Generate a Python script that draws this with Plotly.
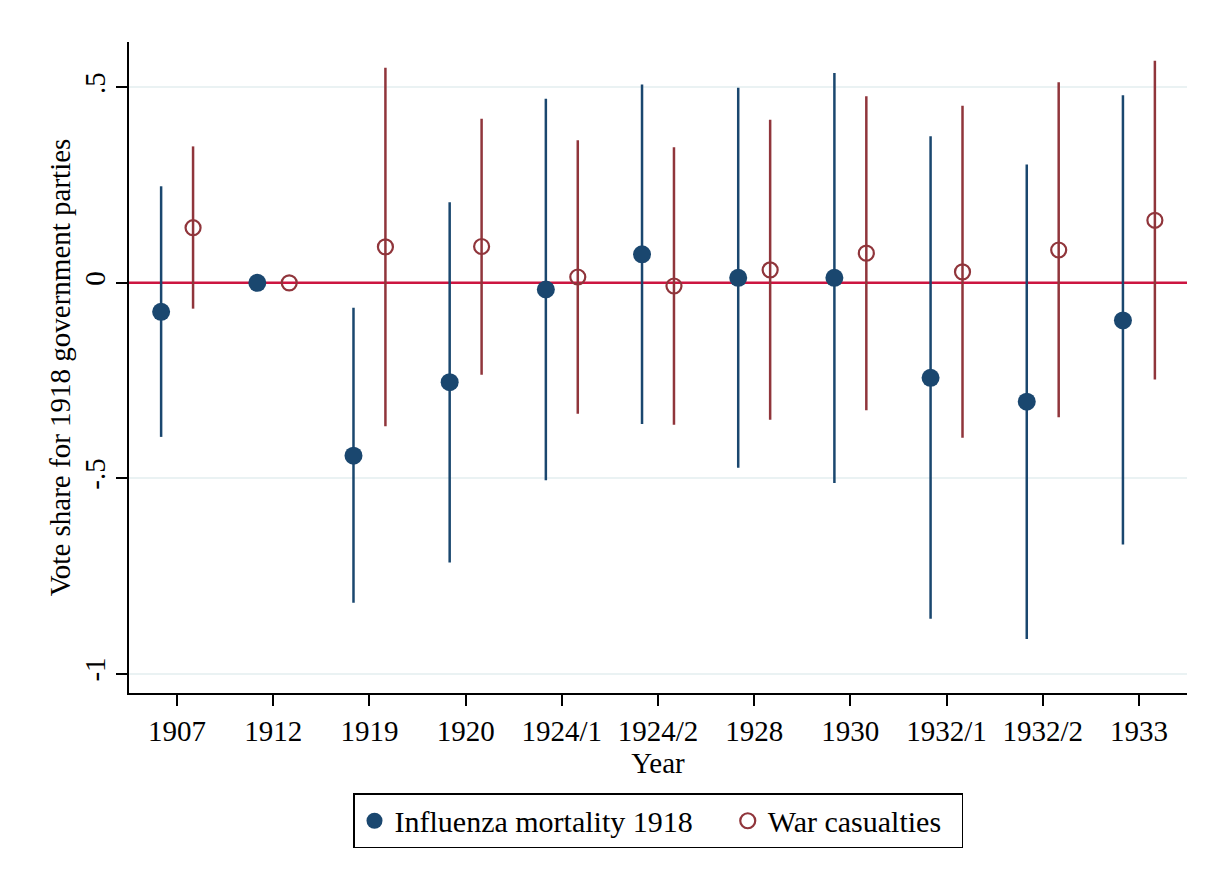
import plotly.graph_objects as go

years = ["1907", "1912", "1919", "1920", "1924/1", "1924/2", "1928", "1930", "1932/1", "1932/2", "1933"]

flu_coef = [-0.074, 0.0, -0.442, -0.254, -0.017, 0.073, 0.013, 0.013, -0.243, -0.304, -0.096]
flu_hi   = [0.247, 0.0, -0.064, 0.206, 0.471, 0.507, 0.499, 0.537, 0.375, 0.303, 0.480]
flu_lo   = [-0.394, 0.0, -0.818, -0.715, -0.505, -0.361, -0.473, -0.512, -0.859, -0.911, -0.669]

war_coef = [0.141, 0.0, 0.092, 0.093, 0.015, -0.008, 0.033, 0.076, 0.028, 0.084, 0.160]
war_hi   = [0.349, 0.0, 0.550, 0.420, 0.365, 0.347, 0.417, 0.477, 0.453, 0.513, 0.568]
war_lo   = [-0.066, 0.0, -0.367, -0.235, -0.335, -0.363, -0.350, -0.326, -0.396, -0.344, -0.247]

ytick_vals = [-1, -0.5, 0, 0.5]
ytick_text = ["-1", "-.5", "0", ".5"]

series_names = ["Influenza mortality 1918", "War casualties"]

BLUE = "#1a476f"
RED = "#90353b"
ZERO = "#cc1540"
FONT = "Liberation Serif"
OFF = 0.166
NB = "\u00a0"

idx = list(range(len(years)))
xr = [-0.5, len(years) - 0.5]

fig = go.Figure()

# reference line at zero (drawn first, behind markers)
fig.add_trace(go.Scatter(x=xr, y=[0, 0], mode="lines", showlegend=False,
                         hoverinfo="skip", line=dict(color=ZERO, width=2.5)))

def add_series(coef, hi, lo, shift, name, color, marker):
    fig.add_trace(go.Scatter(
        x=[i + shift for i in idx],
        y=coef,
        mode="markers",
        name=name,
        marker=marker,
        error_y=dict(
            type="data", symmetric=False,
            array=[h - c for h, c in zip(hi, coef)],
            arrayminus=[c - l for c, l in zip(coef, lo)],
            color=color, thickness=2.5, width=0,
        ),
    ))

add_series(flu_coef, flu_hi, flu_lo, -OFF, series_names[0] + NB * 4, BLUE,
           dict(symbol="circle", size=18, color=BLUE))
add_series(war_coef, war_hi, war_lo, OFF, series_names[1] + NB * 2, RED,
           dict(symbol="circle-open", size=15, color=RED, line=dict(width=2.2, color=RED)))

fig.update_layout(
    width=1198, height=867,
    margin=dict(l=121, r=19, t=34, b=182),
    paper_bgcolor="white", plot_bgcolor="white",
    font=dict(family=FONT, size=29, color="black"),
    showlegend=True,
    legend=dict(
        orientation="h", x=0.5, xanchor="center", y=-0.154, yanchor="top",
        bordercolor="black", borderwidth=1.5, bgcolor="white",
        font=dict(family=FONT, size=30, color="black"),
        itemwidth=30,
    ),
    xaxis=dict(
        range=xr,
        tickmode="array", tickvals=idx, ticktext=years,
        showgrid=False, zeroline=False,
        showline=True, linecolor="black", linewidth=1.5,
        ticks="outside", ticklen=11, tickwidth=1.5, tickcolor="black",
        tickfont=dict(family=FONT, size=29),
        title=dict(text="Year", font=dict(family=FONT, size=29), standoff=0),
    ),
    yaxis=dict(
        range=[-1.049, 0.616],
        tickmode="array", tickvals=ytick_vals, ticktext=ytick_text,
        tickangle=-90,
        showgrid=True, gridcolor="#eaf2f3", gridwidth=1.5,
        zeroline=False,
        showline=True, linecolor="black", linewidth=1.5,
        ticks="outside", ticklen=11, tickwidth=1.5, tickcolor="black",
        tickfont=dict(family=FONT, size=29),
        title=dict(text="Vote share for 1918 government parties", font=dict(family=FONT, size=29), standoff=0),
    ),
)

fig.write_html("out.html")
